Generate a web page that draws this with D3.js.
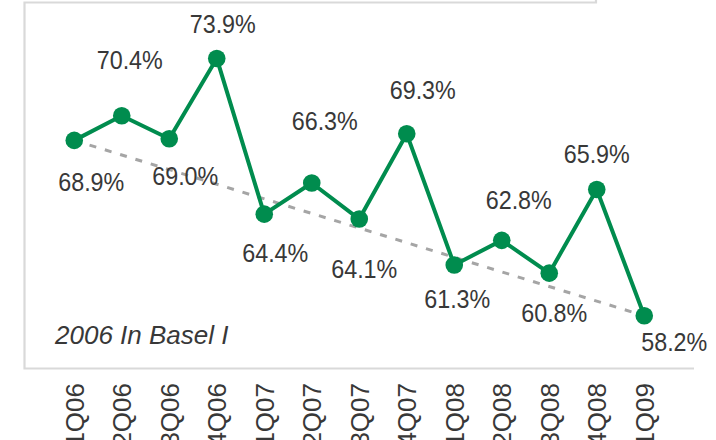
<!DOCTYPE html>
<html>
<head>
<meta charset="utf-8">
<script src="https://cdn.jsdelivr.net/npm/d3@7"></script>
<style>
  html, body { margin: 0; padding: 0; background: #fff; }
  svg { display: block; }
</style>
</head>
<body>
<svg id="chart" width="716" height="440"></svg>
<script>
// Quarterly ratio series
const quarters = ["1Q06","2Q06","3Q06","4Q06","1Q07","2Q07","3Q07","4Q07","1Q08","2Q08","3Q08","4Q08","1Q09"];
const ratios = [68.9, 70.4, 69.0, 73.9, 64.4, 66.3, 64.1, 69.3, 61.3, 62.8, 60.8, 65.9, 58.2];
const yDomain = [55, 75];
const noteText = "2006 In Basel I";

// Where each value label sits relative to its marker: [dx, baseline dy]
const labelNudge = [
  [17, 51], [8, -47], [16, 46], [6, -25], [11, 48], [13, -53], [5, 59],
  [16, -35], [3, 43], [17, -31], [5, 49], [0, -27], [30, 35]
];

const W = 716, H = 440;
const svg = d3.select("#chart");
const green = "#008c4e";
const textColor = "#383838";
const labelFont = "'Liberation Sans', Arial, sans-serif";
const narrow = 0.88; // horizontal squeeze giving a narrow face for value labels

const x = d3.scaleBand().domain(quarters).range([50.5, 668]);
const y = d3.scaleLinear().domain(yDomain).range([368.2, 40.4]);
const cx = q => x(q) + x.bandwidth() / 2;

// frame lines
svg.append("path")
  .attr("d", "M596,-4 V2.5 H24.5 V368.5 H694")
  .attr("fill", "none")
  .attr("stroke", "#d9d9d9")
  .attr("stroke-width", 2.2);

const data = quarters.map((q, i) => ({ q, v: ratios[i], i }));

// dashed connector between first and last quarter
const ends = [data[0], data[data.length - 1]];
svg.append("path")
  .datum(ends)
  .attr("d", d3.line().x(d => cx(d.q)).y(d => y(d.v)))
  .attr("fill", "none")
  .attr("stroke", "#a5a5a5")
  .attr("stroke-width", 3)
  .attr("stroke-dasharray", "7,9");

// main series
svg.append("path")
  .datum(data)
  .attr("d", d3.line().x(d => cx(d.q)).y(d => y(d.v)))
  .attr("fill", "none")
  .attr("stroke", green)
  .attr("stroke-width", 4)
  .attr("stroke-linejoin", "round");

svg.selectAll("circle.pt")
  .data(data)
  .join("circle")
  .attr("class", "pt")
  .attr("cx", d => cx(d.q))
  .attr("cy", d => y(d.v))
  .attr("r", 8.8)
  .attr("fill", green);

// value labels
svg.selectAll("text.val")
  .data(data)
  .join("text")
  .attr("class", "val")
  .attr("transform", d => `translate(${cx(d.q) + labelNudge[d.i][0]},${y(d.v) + labelNudge[d.i][1]}) scale(${narrow},1)`)
  .attr("text-anchor", "middle")
  .attr("font-family", labelFont)
  .attr("font-size", 26.5)
  .attr("fill", textColor)
  .text(d => d.v.toFixed(1) + "%");

// category axis, rotated labels running off the bottom edge
const xAxis = d3.axisBottom(x).tickSize(0).tickPadding(0);
const gx = svg.append("g").attr("transform", "translate(0,383)").call(xAxis);
gx.select(".domain").remove();
gx.selectAll(".tick text")
  .attr("transform", "rotate(-90)")
  .attr("x", 0)
  .attr("y", 0)
  .attr("dy", "0.36em")
  .attr("text-anchor", "end")
  .attr("font-family", labelFont)
  .attr("font-size", 26)
  .attr("fill", textColor);

// note
svg.append("text")
  .attr("x", 55)
  .attr("y", 344)
  .attr("font-family", "'Liberation Sans', Arial, sans-serif")
  .attr("font-style", "italic")
  .attr("font-size", 26)
  .attr("fill", textColor)
  .text(noteText);
</script>
</body>
</html>
